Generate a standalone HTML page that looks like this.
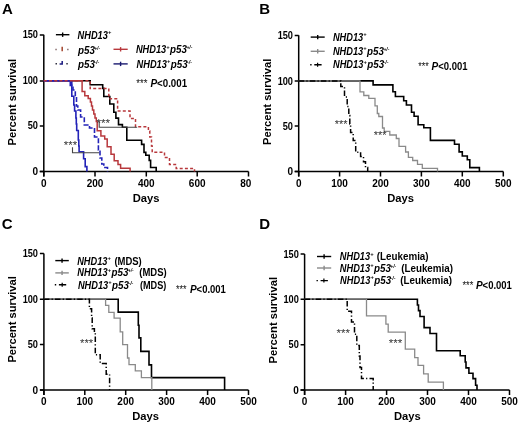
<!DOCTYPE html>
<html><head><meta charset="utf-8"><style>
html,body{margin:0;padding:0;background:#fff;}
svg{display:block;filter:blur(0.3px);}
text{font-family:"Liberation Sans", sans-serif;}
</style></head><body>
<svg width="520" height="425" viewBox="0 0 520 425">
<rect width="520" height="425" fill="#fff"/>
<defs><clipPath id="clipA"><rect x="0" y="0" width="251" height="212"/></clipPath></defs><g clip-path="url(#clipA)">
<text x="1.9" y="13.9" font-size="15" font-weight="bold" font-style="normal" text-anchor="start" fill="#000" >A</text>
<path d="M43.8 34.7 V176.6 M39.8 171.6 H248.5" stroke="#000" stroke-width="1.5" fill="none"/>
<path d="M43.8 171.6 V176.6 M95.0 171.6 V176.6 M146.3 171.6 V176.6 M197.2 171.6 V176.6 M248.5 171.6 V176.6 M39.8 171.6 H43.8 M39.8 125.9 H43.8 M39.8 80.9 H43.8 M39.8 34.9 H43.8 " stroke="#000" stroke-width="1.5" fill="none"/>
<text x="43.8" y="186.6" font-size="10" font-weight="bold" font-style="normal" text-anchor="middle" fill="#000" >0</text>
<text x="95.0" y="186.6" font-size="10" font-weight="bold" font-style="normal" text-anchor="middle" fill="#000" >200</text>
<text x="146.3" y="186.6" font-size="10" font-weight="bold" font-style="normal" text-anchor="middle" fill="#000" >400</text>
<text x="197.2" y="186.6" font-size="10" font-weight="bold" font-style="normal" text-anchor="middle" fill="#000" >600</text>
<text x="248.5" y="186.6" font-size="10" font-weight="bold" font-style="normal" text-anchor="middle" fill="#000" >800</text>
<text x="38.0" y="175.1" font-size="10" font-weight="bold" font-style="normal" text-anchor="end" fill="#000" >0</text>
<text x="38.0" y="129.4" font-size="10" font-weight="bold" font-style="normal" text-anchor="end" fill="#000" textLength="10.24" lengthAdjust="spacingAndGlyphs" >50</text>
<text x="38.0" y="84.4" font-size="10" font-weight="bold" font-style="normal" text-anchor="end" fill="#000" textLength="15.36" lengthAdjust="spacingAndGlyphs" >100</text>
<text x="38.0" y="38.4" font-size="10" font-weight="bold" font-style="normal" text-anchor="end" fill="#000" textLength="15.36" lengthAdjust="spacingAndGlyphs" >150</text>
<text x="146" y="201.5" font-size="11.2" font-weight="bold" font-style="normal" text-anchor="middle" fill="#000" >Days</text>
<text transform="translate(15.9 102.2) rotate(-90)" font-size="11.2" font-weight="bold" text-anchor="middle">Percent survival</text>
<path d="M55.9 34.7 H69.4" stroke="#000" stroke-width="1.4" fill="none"/>
<path d="M62.650000000000006 32.5 V36.900000000000006" stroke="#000" stroke-width="1.4" fill="none"/>
<text x="77.6" y="39.0" font-size="10" font-weight="bold" font-style="italic" text-anchor="start" fill="#000" textLength="30.3" lengthAdjust="spacingAndGlyphs" >NHD13</text>
<text x="108.0" y="34.300000000000004" font-size="5.6" font-weight="bold" font-style="italic" text-anchor="start" fill="#000" >+</text>
<path d="M55.3 49.6 h1.5 M67.1 49.6 h1.5" stroke="#8a7070" stroke-width="1.5"/>
<path d="M62.2 46.8 V51.2" stroke="#a8503a" stroke-width="1.6"/>
<text x="78.0" y="53.7" font-size="10" font-weight="bold" font-style="italic" text-anchor="start" fill="#000" textLength="16.9" lengthAdjust="spacingAndGlyphs" >p53</text>
<text x="94.2" y="49.7" font-size="6.0" font-weight="bold" font-style="italic" text-anchor="start" fill="#000" textLength="6.0" lengthAdjust="spacingAndGlyphs" >+/-</text>
<path d="M55.5 63.8 h1.5 M66.3 63.8 h1.5" stroke="#303040" stroke-width="1.5"/>
<path d="M59.6 64 H62.9 M62.2 61 V64.7" stroke="#1a1a80" stroke-width="1.5"/>
<text x="78.0" y="67.7" font-size="10" font-weight="bold" font-style="italic" text-anchor="start" fill="#000" textLength="16.9" lengthAdjust="spacingAndGlyphs" >p53</text>
<text x="94.2" y="63.7" font-size="6.0" font-weight="bold" font-style="italic" text-anchor="start" fill="#000" textLength="5.0" lengthAdjust="spacingAndGlyphs" >-/-</text>
<path d="M113.5 49.3 H127.7" stroke="#b8383c" stroke-width="1.4" fill="none"/>
<path d="M120.6 47.099999999999994 V51.5" stroke="#b8383c" stroke-width="1.4" fill="none"/>
<text x="135.9" y="53.4" font-size="10" font-weight="bold" font-style="italic" text-anchor="start" fill="#000" textLength="30.3" lengthAdjust="spacingAndGlyphs" >NHD13</text>
<text x="166.29999999999998" y="48.7" font-size="5.6" font-weight="bold" font-style="italic" text-anchor="start" fill="#000" >+</text>
<text x="170.1" y="53.4" font-size="10" font-weight="bold" font-style="italic" text-anchor="start" fill="#000" textLength="16.9" lengthAdjust="spacingAndGlyphs" >p53</text>
<text x="186.39999999999998" y="49.400000000000006" font-size="6.0" font-weight="bold" font-style="italic" text-anchor="start" fill="#000" textLength="6.0" lengthAdjust="spacingAndGlyphs" >+/-</text>
<path d="M113.5 63.9 H127.7" stroke="#1a1a70" stroke-width="1.4" fill="none"/>
<path d="M120.6 61.699999999999996 V66.1" stroke="#1a1a70" stroke-width="1.4" fill="none"/>
<text x="136.60000000000002" y="67.7" font-size="10" font-weight="bold" font-style="italic" text-anchor="start" fill="#000" textLength="30.3" lengthAdjust="spacingAndGlyphs" >NHD13</text>
<text x="167.0" y="63.00000000000001" font-size="5.6" font-weight="bold" font-style="italic" text-anchor="start" fill="#000" >+</text>
<text x="170.8" y="67.7" font-size="10" font-weight="bold" font-style="italic" text-anchor="start" fill="#000" textLength="16.9" lengthAdjust="spacingAndGlyphs" >p53</text>
<text x="187.10000000000002" y="63.7" font-size="6.0" font-weight="bold" font-style="italic" text-anchor="start" fill="#000" textLength="5.0" lengthAdjust="spacingAndGlyphs" >-/-</text>
<text x="136.2" y="86.6" font-size="10.5" font-weight="normal" font-style="normal" text-anchor="start" fill="#111" textLength="11.2" lengthAdjust="spacingAndGlyphs" >***</text>
<text x="150.39999999999998" y="86.6" font-size="10" font-weight="bold" font-style="italic" text-anchor="start" fill="#000" >P</text>
<text x="157.1" y="86.6" font-size="10" font-weight="bold" font-style="normal" text-anchor="start" fill="#000" textLength="30.0" lengthAdjust="spacingAndGlyphs" >&lt;0.001</text>
<path d="M43.8 80.8 H90.2 V84.8 H102.7 V88.4 H103.8 V96.5 H109.8 V104 H113.8 V112.2 H115.9 V118.1 H118.5 V124.6 H122.4 V127.3 H126.8 V140.3 H141.6 V144.4 H144 V152.4 H145.8 V155.2 H149.2 V160.4 H150.6 V167.5 H156.2 V171.6" stroke="#000" stroke-width="1.6" fill="none" stroke-linejoin="miter" stroke-linecap="butt" opacity="1"/>
<path d="M43.8 80.8 H82.1 V91.6 H84.8 V95.7 H88.2 V98.4 H90.4 V102 H91.5 V106 H92.5 V110 H93.8 V114 H95 V118 H96.3 V121.5 H97.2 V130.8 H100.9 V135.9 H104.7 V139.1 H107.2 V146.7 H111 V154.3 H114.2 V160.7 H118 V164.5 H120.6 V168.3 H130.1 V171.6" stroke="#b8383c" stroke-width="1.5" fill="none" stroke-linejoin="miter" stroke-linecap="butt" opacity="1"/>
<path d="M43.8 80.8 H70.3 V85.4 H71.8 V96.3 H73.8 V105 H74.6 V111 H75.9 V118 H76.3 V124 H76.7 V130.5 H78.3 V140 H78.8 V146 H79.1 V151.8 H83.6 V158.8 H85.2 V166.6 H86.9 V171.6" stroke="#2323b8" stroke-width="1.6" fill="none" stroke-linejoin="miter" stroke-linecap="butt" opacity="1"/>
<path d="M43.8 80.8 H71.8 V85 H73 V90 H75.3 V97 H76.5 V106 H77.8 V110 H80.6 V117 H84.3 V125 H89.5 V128 H94.5 V137 H98.4 V150 H100 V158 H101.8 V164 H103.8 V167.5 H107.5 V171.6" stroke="#2323b8" stroke-width="1.6" fill="none" stroke-linejoin="miter" stroke-linecap="butt" stroke-dasharray="5 2" opacity="1"/>
<path d="M43.8 80.8 H90.2 V88.6 H108.8 V95.8 H110 V98.7 H117.6 V111 H130 V118.5 H135.5 V126.8 H148.4 V131 H149.8 V137 H151.5 V146 H152.2 V152.3 H164.5 V157.5 H169.5 V164.6 H176.2 V168.5 H194.5 V171.6" stroke="#b8383c" stroke-width="1.5" fill="none" stroke-linejoin="miter" stroke-linecap="butt" stroke-dasharray="3 2.2" opacity="1"/>
<path d="M99.2 121.5 V127.2 H137.2" stroke="#444" stroke-width="1.1" fill="none" stroke-linejoin="miter" stroke-linecap="butt" opacity="1"/>
<path d="M72.5 147.2 V152.8 H99.3" stroke="#444" stroke-width="1.1" fill="none" stroke-linejoin="miter" stroke-linecap="butt" opacity="1"/>
<text x="96.39999999999999" y="127.4" font-size="10.5" font-weight="normal" font-style="normal" text-anchor="start" fill="#333" textLength="13.8" lengthAdjust="spacingAndGlyphs" >***</text>
<text x="63.800000000000004" y="149.2" font-size="10.5" font-weight="normal" font-style="normal" text-anchor="start" fill="#333" textLength="13.3" lengthAdjust="spacingAndGlyphs" >***</text>
</g>
<text x="259.3" y="13.7" font-size="15" font-weight="bold" font-style="normal" text-anchor="start" fill="#000" >B</text>
<path d="M298.7 35.3 V176.5 M294.7 171.5 H503.3" stroke="#000" stroke-width="1.5" fill="none"/>
<path d="M298.7 171.5 V176.5 M339.6 171.5 V176.5 M380.5 171.5 V176.5 M421.4 171.5 V176.5 M462.3 171.5 V176.5 M503.3 171.5 V176.5 M294.7 171.5 H298.7 M294.7 126.1 H298.7 M294.7 81.0 H298.7 M294.7 35.4 H298.7 " stroke="#000" stroke-width="1.5" fill="none"/>
<text x="298.7" y="186.6" font-size="10" font-weight="bold" font-style="normal" text-anchor="middle" fill="#000" >0</text>
<text x="339.6" y="186.6" font-size="10" font-weight="bold" font-style="normal" text-anchor="middle" fill="#000" >100</text>
<text x="380.5" y="186.6" font-size="10" font-weight="bold" font-style="normal" text-anchor="middle" fill="#000" >200</text>
<text x="421.4" y="186.6" font-size="10" font-weight="bold" font-style="normal" text-anchor="middle" fill="#000" >300</text>
<text x="462.3" y="186.6" font-size="10" font-weight="bold" font-style="normal" text-anchor="middle" fill="#000" >400</text>
<text x="503.3" y="186.6" font-size="10" font-weight="bold" font-style="normal" text-anchor="middle" fill="#000" >500</text>
<text x="293.0" y="175.0" font-size="10" font-weight="bold" font-style="normal" text-anchor="end" fill="#000" >0</text>
<text x="293.0" y="129.6" font-size="10" font-weight="bold" font-style="normal" text-anchor="end" fill="#000" textLength="10.24" lengthAdjust="spacingAndGlyphs" >50</text>
<text x="293.0" y="84.5" font-size="10" font-weight="bold" font-style="normal" text-anchor="end" fill="#000" textLength="15.36" lengthAdjust="spacingAndGlyphs" >100</text>
<text x="293.0" y="38.9" font-size="10" font-weight="bold" font-style="normal" text-anchor="end" fill="#000" textLength="15.36" lengthAdjust="spacingAndGlyphs" >150</text>
<text x="400.6" y="201.5" font-size="11.2" font-weight="bold" font-style="normal" text-anchor="middle" fill="#000" >Days</text>
<text transform="translate(271.3 101.8) rotate(-90)" font-size="11.2" font-weight="bold" text-anchor="middle">Percent survival</text>
<path d="M310.7 37.1 H324.7" stroke="#000" stroke-width="1.4" fill="none"/>
<path d="M317.7 34.9 V39.300000000000004" stroke="#000" stroke-width="1.4" fill="none"/>
<path d="M310.7 51.3 H324.7" stroke="#8a8a8a" stroke-width="1.4" fill="none"/>
<path d="M317.7 49.099999999999994 V53.5" stroke="#8a8a8a" stroke-width="1.4" fill="none"/>
<path d="M310.2 64.8 h1.4 M314.3 64.8 h7.3" stroke="#000" stroke-width="1.4"/><path d="M317.6 62.8 v4" stroke="#000" stroke-width="1.2"/>
<text x="332.90000000000003" y="40.699999999999996" font-size="10" font-weight="bold" font-style="italic" text-anchor="start" fill="#000" textLength="30.3" lengthAdjust="spacingAndGlyphs" >NHD13</text>
<text x="363.30000000000007" y="36.0" font-size="5.6" font-weight="bold" font-style="italic" text-anchor="start" fill="#000" >+</text>
<text x="332.90000000000003" y="55.099999999999994" font-size="10" font-weight="bold" font-style="italic" text-anchor="start" fill="#000" textLength="30.3" lengthAdjust="spacingAndGlyphs" >NHD13</text>
<text x="363.30000000000007" y="50.4" font-size="5.6" font-weight="bold" font-style="italic" text-anchor="start" fill="#000" >+</text>
<text x="367.1" y="55.099999999999994" font-size="10" font-weight="bold" font-style="italic" text-anchor="start" fill="#000" textLength="16.9" lengthAdjust="spacingAndGlyphs" >p53</text>
<text x="383.40000000000003" y="51.1" font-size="6.0" font-weight="bold" font-style="italic" text-anchor="start" fill="#000" textLength="6.0" lengthAdjust="spacingAndGlyphs" >+/-</text>
<text x="333.0" y="68.39999999999999" font-size="10" font-weight="bold" font-style="italic" text-anchor="start" fill="#000" textLength="30.3" lengthAdjust="spacingAndGlyphs" >NHD13</text>
<text x="363.40000000000003" y="63.699999999999996" font-size="5.6" font-weight="bold" font-style="italic" text-anchor="start" fill="#000" >+</text>
<text x="367.2" y="68.39999999999999" font-size="10" font-weight="bold" font-style="italic" text-anchor="start" fill="#000" textLength="16.9" lengthAdjust="spacingAndGlyphs" >p53</text>
<text x="383.5" y="64.39999999999999" font-size="6.0" font-weight="bold" font-style="italic" text-anchor="start" fill="#000" textLength="5.0" lengthAdjust="spacingAndGlyphs" >-/-</text>
<text x="418.20000000000005" y="69.8" font-size="10.5" font-weight="normal" font-style="normal" text-anchor="start" fill="#111" textLength="10.6" lengthAdjust="spacingAndGlyphs" >***</text>
<text x="431.59999999999997" y="69.8" font-size="10" font-weight="bold" font-style="italic" text-anchor="start" fill="#000" >P</text>
<text x="438.29999999999995" y="69.8" font-size="10" font-weight="bold" font-style="normal" text-anchor="start" fill="#000" textLength="29.3" lengthAdjust="spacingAndGlyphs" >&lt;0.001</text>
<path d="M298.7 80.9 H373.1 V84.9 H392.9 V91.8 H395.4 V96.5 H403.7 V100.7 H406.4 V105 H411.5 V112.3 H414.1 V116.3 H418.1 V124.8 H423.8 V127.8 H430.4 V140.4 H454.5 V144.2 H459.1 V151.9 H462.3 V156 H467.3 V159.8 H469.8 V167.6 H479.4 V171.5" stroke="#000" stroke-width="1.6" fill="none" stroke-linejoin="miter" stroke-linecap="butt" opacity="1"/>
<path d="M298.7 80.9 H360 V91.8 H363.8 V95.5 H368.8 V98.4 H375 V105.8 H377.3 V113.5 H378.8 V116.5 H382.5 V128 H384.2 V131.3 H389.8 V135 H396.3 V138.5 H399 V146.4 H405.6 V152 H408.4 V157.3 H412.7 V160.5 H417.5 V164.3 H422.3 V168.3 H437.5 V171.5" stroke="#8a8a8a" stroke-width="1.3" fill="none" stroke-linejoin="miter" stroke-linecap="butt" opacity="1"/>
<path d="M298.7 80.9 H340.8 V86.5 H344.5 V97 H347.2 V106.6 H348.8 V115.5 H349.8 V124 H350.6 V132.5 H353.2 V140.6 H355.7 V152.2 H360.6 V156.5 H363.5 V161.7 H365.5 V167.6 H367.7 V171.5" stroke="#000" stroke-width="1.5" fill="none" stroke-linejoin="miter" stroke-linecap="butt" stroke-dasharray="5.5 2.2 1.2 2.2" opacity="1"/>
<text x="334.70000000000005" y="128.1" font-size="10.5" font-weight="normal" font-style="normal" text-anchor="start" fill="#333" textLength="12.9" lengthAdjust="spacingAndGlyphs" >***</text>
<text x="373.70000000000005" y="138.9" font-size="10.5" font-weight="normal" font-style="normal" text-anchor="start" fill="#333" textLength="12.9" lengthAdjust="spacingAndGlyphs" >***</text>
<text x="1.7" y="229.4" font-size="15" font-weight="bold" font-style="normal" text-anchor="start" fill="#000" >C</text>
<path d="M43.9 253.5 V395.0 M39.9 390.0 H248.5" stroke="#000" stroke-width="1.5" fill="none"/>
<path d="M43.9 390.0 V395.0 M84.8 390.0 V395.0 M125.7 390.0 V395.0 M166.6 390.0 V395.0 M207.6 390.0 V395.0 M248.5 390.0 V395.0 M39.9 390.0 H43.9 M39.9 344.6 H43.9 M39.9 299.2 H43.9 M39.9 253.6 H43.9 " stroke="#000" stroke-width="1.5" fill="none"/>
<text x="43.9" y="405.2" font-size="10" font-weight="bold" font-style="normal" text-anchor="middle" fill="#000" >0</text>
<text x="84.8" y="405.2" font-size="10" font-weight="bold" font-style="normal" text-anchor="middle" fill="#000" >100</text>
<text x="125.7" y="405.2" font-size="10" font-weight="bold" font-style="normal" text-anchor="middle" fill="#000" >200</text>
<text x="166.6" y="405.2" font-size="10" font-weight="bold" font-style="normal" text-anchor="middle" fill="#000" >300</text>
<text x="207.6" y="405.2" font-size="10" font-weight="bold" font-style="normal" text-anchor="middle" fill="#000" >400</text>
<text x="248.5" y="405.2" font-size="10" font-weight="bold" font-style="normal" text-anchor="middle" fill="#000" >500</text>
<text x="38.0" y="393.5" font-size="10" font-weight="bold" font-style="normal" text-anchor="end" fill="#000" >0</text>
<text x="38.0" y="348.1" font-size="10" font-weight="bold" font-style="normal" text-anchor="end" fill="#000" textLength="10.24" lengthAdjust="spacingAndGlyphs" >50</text>
<text x="38.0" y="302.7" font-size="10" font-weight="bold" font-style="normal" text-anchor="end" fill="#000" textLength="15.36" lengthAdjust="spacingAndGlyphs" >100</text>
<text x="38.0" y="257.1" font-size="10" font-weight="bold" font-style="normal" text-anchor="end" fill="#000" textLength="15.36" lengthAdjust="spacingAndGlyphs" >150</text>
<text x="145.6" y="419.6" font-size="11.2" font-weight="bold" font-style="normal" text-anchor="middle" fill="#000" >Days</text>
<text transform="translate(16.3 319.4) rotate(-90)" font-size="11.2" font-weight="bold" text-anchor="middle">Percent survival</text>
<path d="M55.3 260.6 H68.8" stroke="#000" stroke-width="1.4" fill="none"/>
<path d="M62.05 258.40000000000003 V262.8" stroke="#000" stroke-width="1.4" fill="none"/>
<path d="M55.3 272.9 H68.8" stroke="#8a8a8a" stroke-width="1.4" fill="none"/>
<path d="M62.05 270.7 V275.09999999999997" stroke="#8a8a8a" stroke-width="1.4" fill="none"/>
<path d="M54.8 284.7 h1.4 M58.9 284.7 h7.3" stroke="#000" stroke-width="1.4"/><path d="M62.2 282.7 v4" stroke="#000" stroke-width="1.2"/>
<text x="77.2" y="264.8" font-size="10" font-weight="bold" font-style="italic" text-anchor="start" fill="#000" textLength="30.3" lengthAdjust="spacingAndGlyphs" >NHD13</text>
<text x="107.6" y="260.1" font-size="5.6" font-weight="bold" font-style="italic" text-anchor="start" fill="#000" >+</text>
<text x="114.39999999999999" y="264.8" font-size="10" font-weight="bold" font-style="normal" text-anchor="start" fill="#000" textLength="27.4" lengthAdjust="spacingAndGlyphs" >(MDS)</text>
<text x="77.3" y="276.3" font-size="10" font-weight="bold" font-style="italic" text-anchor="start" fill="#000" textLength="30.3" lengthAdjust="spacingAndGlyphs" >NHD13</text>
<text x="107.69999999999999" y="271.6" font-size="5.6" font-weight="bold" font-style="italic" text-anchor="start" fill="#000" >+</text>
<text x="111.5" y="276.3" font-size="10" font-weight="bold" font-style="italic" text-anchor="start" fill="#000" textLength="16.9" lengthAdjust="spacingAndGlyphs" >p53</text>
<text x="127.8" y="272.3" font-size="6.0" font-weight="bold" font-style="italic" text-anchor="start" fill="#000" textLength="6.0" lengthAdjust="spacingAndGlyphs" >+/-</text>
<text x="139.29999999999998" y="276.3" font-size="10" font-weight="bold" font-style="normal" text-anchor="start" fill="#000" textLength="27.4" lengthAdjust="spacingAndGlyphs" >(MDS)</text>
<text x="77.89999999999999" y="288.8" font-size="10" font-weight="bold" font-style="italic" text-anchor="start" fill="#000" textLength="30.3" lengthAdjust="spacingAndGlyphs" >NHD13</text>
<text x="108.29999999999998" y="284.1" font-size="5.6" font-weight="bold" font-style="italic" text-anchor="start" fill="#000" >+</text>
<text x="112.1" y="288.8" font-size="10" font-weight="bold" font-style="italic" text-anchor="start" fill="#000" textLength="16.9" lengthAdjust="spacingAndGlyphs" >p53</text>
<text x="128.39999999999998" y="284.8" font-size="6.0" font-weight="bold" font-style="italic" text-anchor="start" fill="#000" textLength="5.0" lengthAdjust="spacingAndGlyphs" >-/-</text>
<text x="139.9" y="288.8" font-size="10" font-weight="bold" font-style="normal" text-anchor="start" fill="#000" textLength="26.4" lengthAdjust="spacingAndGlyphs" >(MDS)</text>
<text x="175.9" y="293.0" font-size="10.5" font-weight="normal" font-style="normal" text-anchor="start" fill="#111" textLength="10.6" lengthAdjust="spacingAndGlyphs" >***</text>
<text x="189.89999999999998" y="293.0" font-size="10" font-weight="bold" font-style="italic" text-anchor="start" fill="#000" >P</text>
<text x="196.6" y="293.0" font-size="10" font-weight="bold" font-style="normal" text-anchor="start" fill="#000" textLength="29.3" lengthAdjust="spacingAndGlyphs" >&lt;0.001</text>
<path d="M43.9 299.2 H118.2 V312.1 H138.3 V325.2 H139 V337.9 H140.8 V351.4 H149 V364.9 H151.5 V377.6 H224.6 V390" stroke="#000" stroke-width="1.6" fill="none" stroke-linejoin="miter" stroke-linecap="butt" opacity="1"/>
<path d="M43.9 299.2 H105.6 V305.3 H108.8 V312.4 H114.1 V318.2 H120.2 V331.9 H122.7 V344.6 H127.5 V358 H129 V364.6 H135.3 V370.8 H141.4 V377.6 H151.8 V390" stroke="#8a8a8a" stroke-width="1.3" fill="none" stroke-linejoin="miter" stroke-linecap="butt" opacity="1"/>
<path d="M43.9 299.2 H89.4 V308.8 H91.6 V318 H92.2 V328.8 H94.4 V333 H95.3 V354.8 H100.2 V363.4 H106.2 V374.2 H109.6 V390" stroke="#000" stroke-width="1.5" fill="none" stroke-linejoin="miter" stroke-linecap="butt" stroke-dasharray="5.5 2.2 1.2 2.2" opacity="1"/>
<text x="80.0" y="347.0" font-size="10.5" font-weight="normal" font-style="normal" text-anchor="start" fill="#333" textLength="13.2" lengthAdjust="spacingAndGlyphs" >***</text>
<text x="259.3" y="229.1" font-size="15" font-weight="bold" font-style="normal" text-anchor="start" fill="#000" >D</text>
<path d="M304.6 253.9 V395.0 M300.6 390.0 H509.5" stroke="#000" stroke-width="1.5" fill="none"/>
<path d="M304.6 390.0 V395.0 M345.6 390.0 V395.0 M386.6 390.0 V395.0 M427.5 390.0 V395.0 M468.5 390.0 V395.0 M509.5 390.0 V395.0 M300.6 390.0 H304.6 M300.6 344.7 H304.6 M300.6 299.3 H304.6 M300.6 254.0 H304.6 " stroke="#000" stroke-width="1.5" fill="none"/>
<text x="304.6" y="405.2" font-size="10" font-weight="bold" font-style="normal" text-anchor="middle" fill="#000" >0</text>
<text x="345.6" y="405.2" font-size="10" font-weight="bold" font-style="normal" text-anchor="middle" fill="#000" >100</text>
<text x="386.6" y="405.2" font-size="10" font-weight="bold" font-style="normal" text-anchor="middle" fill="#000" >200</text>
<text x="427.5" y="405.2" font-size="10" font-weight="bold" font-style="normal" text-anchor="middle" fill="#000" >300</text>
<text x="468.5" y="405.2" font-size="10" font-weight="bold" font-style="normal" text-anchor="middle" fill="#000" >400</text>
<text x="509.5" y="405.2" font-size="10" font-weight="bold" font-style="normal" text-anchor="middle" fill="#000" >500</text>
<text x="298.8" y="393.5" font-size="10" font-weight="bold" font-style="normal" text-anchor="end" fill="#000" >0</text>
<text x="298.8" y="348.2" font-size="10" font-weight="bold" font-style="normal" text-anchor="end" fill="#000" textLength="10.24" lengthAdjust="spacingAndGlyphs" >50</text>
<text x="298.8" y="302.8" font-size="10" font-weight="bold" font-style="normal" text-anchor="end" fill="#000" textLength="15.36" lengthAdjust="spacingAndGlyphs" >100</text>
<text x="298.8" y="257.5" font-size="10" font-weight="bold" font-style="normal" text-anchor="end" fill="#000" textLength="15.36" lengthAdjust="spacingAndGlyphs" >150</text>
<text x="407.3" y="419.6" font-size="11.2" font-weight="bold" font-style="normal" text-anchor="middle" fill="#000" >Days</text>
<text transform="translate(277.4 320.2) rotate(-90)" font-size="11.2" font-weight="bold" text-anchor="middle">Percent survival</text>
<path d="M317.0 256.5 H331.2" stroke="#000" stroke-width="1.4" fill="none"/>
<path d="M324.1 254.3 V258.7" stroke="#000" stroke-width="1.4" fill="none"/>
<path d="M317.0 268.0 H331.2" stroke="#8a8a8a" stroke-width="1.4" fill="none"/>
<path d="M324.1 265.8 V270.2" stroke="#8a8a8a" stroke-width="1.4" fill="none"/>
<path d="M316.5 280.6 h1.4 M320.6 280.6 h7.3" stroke="#000" stroke-width="1.4"/><path d="M323.9 278.6 v4" stroke="#000" stroke-width="1.2"/>
<text x="339.8" y="260.40000000000003" font-size="10" font-weight="bold" font-style="italic" text-anchor="start" fill="#000" textLength="30.3" lengthAdjust="spacingAndGlyphs" >NHD13</text>
<text x="370.20000000000005" y="255.70000000000002" font-size="5.6" font-weight="bold" font-style="italic" text-anchor="start" fill="#000" >+</text>
<text x="376.8" y="260.40000000000003" font-size="10" font-weight="bold" font-style="normal" text-anchor="start" fill="#000" textLength="51.8" lengthAdjust="spacingAndGlyphs" >(Leukemia)</text>
<text x="339.8" y="271.90000000000003" font-size="10" font-weight="bold" font-style="italic" text-anchor="start" fill="#000" textLength="30.3" lengthAdjust="spacingAndGlyphs" >NHD13</text>
<text x="370.20000000000005" y="267.20000000000005" font-size="5.6" font-weight="bold" font-style="italic" text-anchor="start" fill="#000" >+</text>
<text x="374.0" y="271.90000000000003" font-size="10" font-weight="bold" font-style="italic" text-anchor="start" fill="#000" textLength="16.9" lengthAdjust="spacingAndGlyphs" >p53</text>
<text x="390.3" y="267.90000000000003" font-size="6.0" font-weight="bold" font-style="italic" text-anchor="start" fill="#000" textLength="6.0" lengthAdjust="spacingAndGlyphs" >+/-</text>
<text x="401.20000000000005" y="271.90000000000003" font-size="10" font-weight="bold" font-style="normal" text-anchor="start" fill="#000" textLength="51.8" lengthAdjust="spacingAndGlyphs" >(Leukemia)</text>
<text x="340.1" y="284.1" font-size="10" font-weight="bold" font-style="italic" text-anchor="start" fill="#000" textLength="30.3" lengthAdjust="spacingAndGlyphs" >NHD13</text>
<text x="370.50000000000006" y="279.40000000000003" font-size="5.6" font-weight="bold" font-style="italic" text-anchor="start" fill="#000" >+</text>
<text x="374.3" y="284.1" font-size="10" font-weight="bold" font-style="italic" text-anchor="start" fill="#000" textLength="16.9" lengthAdjust="spacingAndGlyphs" >p53</text>
<text x="390.6" y="280.1" font-size="6.0" font-weight="bold" font-style="italic" text-anchor="start" fill="#000" textLength="5.0" lengthAdjust="spacingAndGlyphs" >-/-</text>
<text x="400.20000000000005" y="284.1" font-size="10" font-weight="bold" font-style="normal" text-anchor="start" fill="#000" textLength="51.8" lengthAdjust="spacingAndGlyphs" >(Leukemia)</text>
<text x="462.40000000000003" y="289.1" font-size="10.5" font-weight="normal" font-style="normal" text-anchor="start" fill="#111" textLength="10.9" lengthAdjust="spacingAndGlyphs" >***</text>
<text x="475.9" y="289.1" font-size="10" font-weight="bold" font-style="italic" text-anchor="start" fill="#000" >P</text>
<text x="482.59999999999997" y="289.1" font-size="10" font-weight="bold" font-style="normal" text-anchor="start" fill="#000" textLength="29.3" lengthAdjust="spacingAndGlyphs" >&lt;0.001</text>
<path d="M304.6 299.2 H417.4 V305 H418.5 V310.6 H420 V316.5 H424.1 V327.6 H430 V333.5 H436.5 V350.8 H460.2 V355.8 H465.2 V362 H466 V367.9 H468.9 V373.3 H473 V378.6 H475.6 V385.3 H477 V390" stroke="#000" stroke-width="1.6" fill="none" stroke-linejoin="miter" stroke-linecap="butt" opacity="1"/>
<path d="M304.6 299.2 H366.5 V315.9 H385.9 V324.1 H388.2 V332.2 H405.3 V349.2 H414.7 V357.6 H418 V365.4 H423.6 V373.9 H428.2 V382.2 H443.4 V390" stroke="#8a8a8a" stroke-width="1.3" fill="none" stroke-linejoin="miter" stroke-linecap="butt" opacity="1"/>
<path d="M304.6 299.2 H347.2 V311.2 H351.5 V321.9 H354.5 V334.3 H356.8 V345.5 H359.3 V356 H360 V367.5 H361.5 V378.6 H373.2 V390" stroke="#000" stroke-width="1.5" fill="none" stroke-linejoin="miter" stroke-linecap="butt" stroke-dasharray="5.5 2.2 1.2 2.2" opacity="1"/>
<text x="336.6" y="336.5" font-size="10.5" font-weight="normal" font-style="normal" text-anchor="start" fill="#333" textLength="13.5" lengthAdjust="spacingAndGlyphs" >***</text>
<text x="388.8" y="347.2" font-size="10.5" font-weight="normal" font-style="normal" text-anchor="start" fill="#333" textLength="13.6" lengthAdjust="spacingAndGlyphs" >***</text>
</svg>
</body></html>
